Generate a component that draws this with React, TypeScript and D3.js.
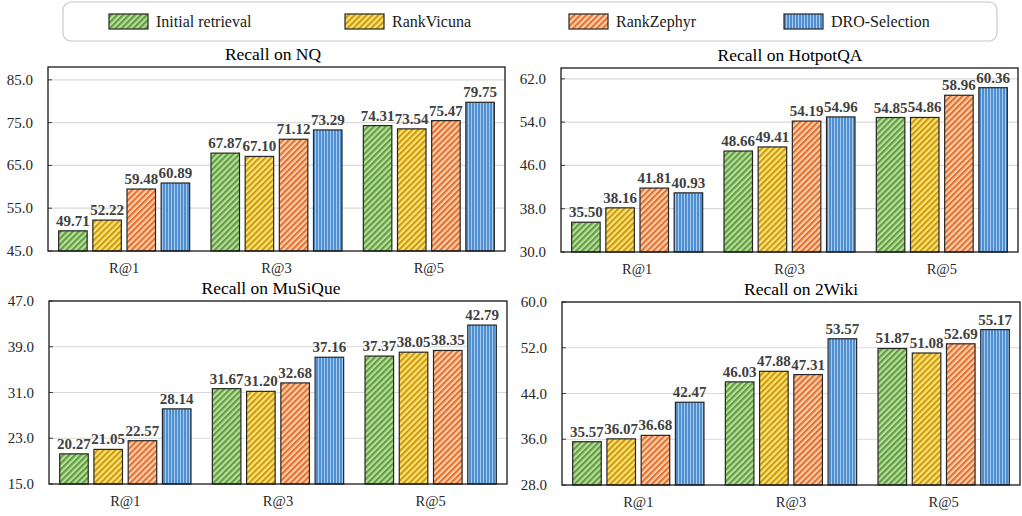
import React from 'react';
import * as d3 from 'd3';

// Categories and series
const categories = ['R@1', 'R@3', 'R@5'];
const seriesNames = ['Initial retrieval', 'RankVicuna', 'RankZephyr', 'DRO-Selection'];

// Recall on NQ
const nqInitial = [49.71, 67.87, 74.31];
const nqVicuna = [52.22, 67.1, 73.54];
const nqZephyr = [59.48, 71.12, 75.47];
const nqDro = [60.89, 73.29, 79.75];
const nqTicks = [45, 55, 65, 75, 85];

// Recall on HotpotQA
const hotpotInitial = [35.5, 48.66, 54.85];
const hotpotVicuna = [38.16, 49.41, 54.86];
const hotpotZephyr = [41.81, 54.19, 58.96];
const hotpotDro = [40.93, 54.96, 60.36];
const hotpotTicks = [30, 38, 46, 54, 62];

// Recall on MuSiQue
const musiqueInitial = [20.27, 31.67, 37.37];
const musiqueVicuna = [21.05, 31.2, 38.05];
const musiqueZephyr = [22.57, 32.68, 38.35];
const musiqueDro = [28.14, 37.16, 42.79];
const musiqueTicks = [15, 23, 31, 39, 47];

// Recall on 2Wiki
const wikiInitial = [35.57, 46.03, 51.87];
const wikiVicuna = [36.07, 47.88, 51.08];
const wikiZephyr = [36.68, 47.31, 52.69];
const wikiDro = [42.47, 53.57, 55.17];
const wikiTicks = [28, 36, 44, 52, 60];

const FONT = "'Liberation Serif', 'Times New Roman', serif";
const textStyle = { fontFamily: FONT };
const patternIds = ['pat-green', 'pat-yellow', 'pat-orange', 'pat-blue'];

type Panel = {
  title: string;
  series: number[][];
  ticks: number[];
  yMax: number;
  x0: number;
  x1: number;
  y0: number;
  y1: number;
  titleX: number;
};

const panels: Panel[] = [
  { title: 'Recall on NQ', series: [nqInitial, nqVicuna, nqZephyr, nqDro], ticks: nqTicks, yMax: 88, x0: 48, x1: 505, y0: 67, y1: 251, titleX: 273 },
  { title: 'Recall on HotpotQA', series: [hotpotInitial, hotpotVicuna, hotpotZephyr, hotpotDro], ticks: hotpotTicks, yMax: 64, x0: 561, x1: 1018, y0: 68, y1: 252, titleX: 790 },
  { title: 'Recall on MuSiQue', series: [musiqueInitial, musiqueVicuna, musiqueZephyr, musiqueDro], ticks: musiqueTicks, yMax: 47, x0: 49, x1: 507, y0: 301, y1: 484, titleX: 271 },
  { title: 'Recall on 2Wiki', series: [wikiInitial, wikiVicuna, wikiZephyr, wikiDro], ticks: wikiTicks, yMax: 60, x0: 562, x1: 1020, y0: 302, y1: 485, titleX: 801 },
];

const fmt = d3.format('.1f');
const fmt2 = d3.format('.2f');

function ChartPanel({ p }: { p: Panel }) {
  const x = d3.scaleBand<string>().domain(categories).range([p.x0, p.x1]).paddingInner(0.14).paddingOuter(0.07);
  const xs = d3.scaleBand<string>().domain(seriesNames).range([0, x.bandwidth()]).paddingInner(0.166);
  const y = d3.scaleLinear().domain([p.ticks[0], p.yMax]).range([p.y1, p.y0]);
  return (
    <g>
      <text x={p.titleX} y={p.y0 - 7} textAnchor="middle" style={textStyle} fontSize={17.5} fill="#000">{p.title}</text>
      {p.ticks.slice(1).map((t) => (
        <line key={'g' + t} x1={p.x0} x2={p.x1} y1={y(t)} y2={y(t)} stroke="#d9d9d9" strokeWidth={1.2} />
      ))}
      {p.ticks.map((t) => (
        <g key={'t' + t}>
          <line x1={p.x0} x2={p.x0 + 4} y1={y(t)} y2={y(t)} stroke="#404040" strokeWidth={1} />
          <text x={p.x0 - 15} y={y(t) + 5} textAnchor="end" style={textStyle} fontSize={15} fill="#262626">{fmt(t)}</text>
        </g>
      ))}
      {categories.map((c, ci) => (
        <g key={c}>
          {p.series.map((vals, si) => {
            const bx = (x(c) as number) + (xs(seriesNames[si]) as number);
            const by = y(vals[ci]);
            return (
              <g key={si}>
                <rect x={bx} y={by} width={xs.bandwidth()} height={p.y1 - by} fill={`url(#${patternIds[si]})`} stroke="#262626" strokeWidth={1.2} />
                <text x={bx + xs.bandwidth() / 2} y={by - 5} textAnchor="middle" style={textStyle} fontWeight="bold" fontSize={15} fill="#404040">{fmt2(vals[ci])}</text>
              </g>
            );
          })}
          <text x={(x(c) as number) + x.bandwidth() / 2} y={p.y1 + 22} textAnchor="middle" style={textStyle} fontSize={14.5} fill="#262626">{c}</text>
        </g>
      ))}
      <rect x={p.x0} y={p.y0} width={p.x1 - p.x0} height={p.y1 - p.y0} fill="none" stroke="#1a1a1a" strokeWidth={1.3} />
    </g>
  );
}

const legendSwatchX = [109, 345, 569, 784];

export default function App() {
  return (
    <div style={{ position: 'fixed', left: 0, top: 0 }}>
      <svg width={1022} height={516} viewBox="0 0 1022 516" style={{ display: 'block', background: '#fff', fontFamily: FONT }}>
        <defs>
          <pattern id="pat-green" width={4.2} height={4.2} patternUnits="userSpaceOnUse" patternTransform="rotate(45)">
            <rect width={4.2} height={4.2} fill="#b9dca0" />
            <rect width={2.1} height={4.2} fill="#5f9e3c" />
          </pattern>
          <pattern id="pat-yellow" width={4.2} height={4.2} patternUnits="userSpaceOnUse" patternTransform="rotate(45)">
            <rect width={4.2} height={4.2} fill="#ffe27e" />
            <rect width={2.1} height={4.2} fill="#cc9d08" />
          </pattern>
          <pattern id="pat-orange" width={4.2} height={4.2} patternUnits="userSpaceOnUse" patternTransform="rotate(45)">
            <rect width={4.2} height={4.2} fill="#fbd0b2" />
            <rect width={2.1} height={4.2} fill="#e5702a" />
          </pattern>
          <pattern id="pat-blue" width={3} height={4} patternUnits="userSpaceOnUse">
            <rect width={3} height={4} fill="#4f8fcf" />
            <rect width={1} height={4} fill="#a6cbee" />
          </pattern>
        </defs>
        <rect x={63} y={2} width={934} height={39} rx={8} ry={8} fill="#fff" stroke="#c8c8c8" strokeWidth={1.2} />
        {seriesNames.map((s, i) => (
          <g key={s}>
            <rect x={legendSwatchX[i]} y={14} width={39} height={15} fill={`url(#${patternIds[i]})`} stroke="#262626" strokeWidth={1.2} />
            <text x={legendSwatchX[i] + 47} y={27} style={textStyle} fontSize={16} fill="#1a1a1a">{s}</text>
          </g>
        ))}
        {panels.map((p) => (
          <ChartPanel key={p.title} p={p} />
        ))}
      </svg>
    </div>
  );
}
